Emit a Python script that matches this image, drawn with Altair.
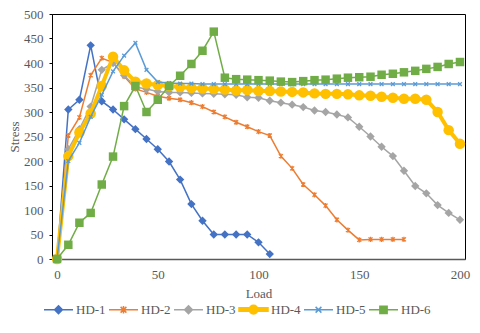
import altair as alt
import pandas as pd

load = [0, 5.6, 11.1, 16.7, 22.2, 27.8, 33.3, 38.9, 44.4, 50, 55.6, 61.1, 66.7,
        72.2, 77.8, 83.3, 88.9, 94.4, 100, 105.6, 111.1, 116.7, 122.2, 127.8,
        133.3, 138.9, 144.4, 150, 155.6, 161.1, 166.7, 172.2, 177.8, 183.3,
        188.9, 194.4, 200]

series_names = ["HD-1", "HD-2", "HD-3", "HD-4", "HD-5", "HD-6"]
colors = ["#4472C4", "#ED7D31", "#A5A5A5", "#FFC000", "#5B9BD5", "#70AD47"]

hd1 = [0, 305, 325, 436, 322, 305, 285, 265, 245, 224, 199, 162, 112, 78, 50,
       50, 50, 50, 34, 10]
hd2 = [0, 252, 289, 375, 410, 401, 373, 347, 340, 332, 328, 325, 319, 311, 300,
       290, 279, 270, 260, 252, 210, 185, 152, 131, 109, 80, 59, 39, 40, 40, 40, 40]
hd3 = [0, 224, 265, 311, 386, 400, 375, 351, 347, 342, 340, 340, 339, 338, 337,
       336, 335, 330, 329, 323, 319, 315, 310, 303, 300, 295, 289, 270, 250, 229,
       210, 180, 149, 134, 110, 94, 80]
hd4 = [0, 210, 258, 297, 353, 413, 385, 362, 358, 355, 353, 351, 349, 348, 347,
       346, 344, 345, 343, 343, 342, 341, 340, 338, 337, 337, 336, 334, 333, 331,
       329, 327, 327, 325, 300, 263, 235]
hd5 = [0, 200, 237, 290, 335, 383, 415, 441, 386, 361, 359, 358, 358, 357, 357,
       357, 357, 357, 357, 357, 357, 357, 357, 357, 357, 357, 357, 357, 357, 357,
       357, 357, 357, 357, 357, 357, 357]
hd6 = [0, 29, 74, 94, 152, 209, 312, 353, 300, 325, 353, 374, 398, 425, 464,
       370, 367, 366, 365, 364, 362, 361, 363, 365, 366, 368, 370, 371, 372, 376,
       378, 381, 384, 388, 392, 398, 402]

all_vals = [hd1, hd2, hd3, hd4, hd5, hd6]
rows = []
for name, vals in zip(series_names, all_vals):
    for i, v in enumerate(vals):
        rows.append({"series": name, "load": load[i], "stress": v, "order": i})
df = pd.DataFrame(rows)

FONT = "Liberation Serif"
GREY = "#595959"

X = alt.X("load:Q",
          scale=alt.Scale(domain=[-2.5, 202.5], nice=False, zero=False),
          axis=alt.Axis(values=[0, 50, 100, 150, 200], title="Load",
                        grid=False, ticks=False, labelPadding=9,
                        titlePadding=6, domainColor=GREY, domainWidth=1.5))
Y = alt.Y("stress:Q",
          scale=alt.Scale(domain=[0, 500], nice=False),
          axis=alt.Axis(values=list(range(0, 501, 50)), title="Stress",
                        grid=False, tickSize=3, tickColor="black",
                        labelPadding=6, titlePadding=2, domainColor="black"))

star_path = "M-1,-1L1,1M-1,1L1,-1M0,-1.3V1.3"
x_path = "M-1,-1L1,1M-1,1L1,-1"

legend_paths = [
    "M-1,0H1M0,-0.27L0.27,0L0,0.27L-0.27,0Z",
    "M-1,0H1M-0.2,-0.2L0.2,0.2M-0.2,0.2L0.2,-0.2M0,-0.26V0.26",
    "M-1,0H1M0,-0.27L0.27,0L0,0.27L-0.27,0Z",
    "M-1,-0.12H1V0.12H-1ZM0.3,0A0.3,0.3 0 1,1 -0.3,0A0.3,0.3 0 1,1 0.3,0Z",
    "M-1,0H1M-0.2,-0.2L0.2,0.2M-0.2,0.2L0.2,-0.2",
    "M-1,0H1M-0.25,-0.25H0.25V0.25H-0.25Z",
]

legend = alt.Legend(title=None, orient="none", legendX=-9, legendY=280,
                    direction="horizontal", symbolSize=841,
                    symbolStrokeWidth=1.5, symbolOpacity=1,
                    labelFont=FONT, labelFontSize=13, labelColor=GREY,
                    labelOffset=2, columnPadding=0)

color = alt.Color("series:N", scale=alt.Scale(domain=series_names, range=colors),
                  legend=legend)

marker_cfg = {
    "HD-1": dict(shape="diamond", size=70, filled=True, lw=1.5),
    "HD-2": dict(shape=star_path, size=16, filled=False, lw=1.5),
    "HD-3": dict(shape="diamond", size=70, filled=True, lw=1.5),
    "HD-4": dict(shape="circle", size=110, filled=True, lw=4),
    "HD-5": dict(shape=x_path, size=14, filled=False, lw=1.5),
    "HD-6": dict(shape="square", size=72, filled=True, lw=1.5),
}

layers = []
for name in series_names:
    cfg = marker_cfg[name]
    base = alt.Chart(df).transform_filter(alt.datum.series == name)
    line = base.mark_line(strokeWidth=cfg["lw"]).encode(
        x=X, y=Y, color=color, order="order:Q")
    pts = base.mark_point(shape=cfg["shape"], size=cfg["size"],
                          filled=cfg["filled"], opacity=1,
                          strokeWidth=1.3).encode(x=X, y=Y, color=color)
    layers += [line, pts]

legend_layer = alt.Chart(df).transform_filter("false").mark_point(
    filled=True, strokeWidth=1.5).encode(
    x=X, y=Y,
    color=color,
    shape=alt.Shape("series:N",
                    scale=alt.Scale(domain=series_names, range=legend_paths),
                    legend=legend),
)

chart = alt.layer(*layers, legend_layer).properties(
    width=413, height=245,
    autosize=alt.AutoSizeParams(type="none"),
    padding={"left": 44, "top": 6, "right": 7, "bottom": 66},
    background="white",
).configure_view(
    stroke="black", strokeWidth=1
).configure_axis(
    labelFont=FONT, labelFontSize=13, labelColor=GREY,
    titleFont=FONT, titleFontSize=13, titleColor=GREY, titleFontWeight="normal",
)

chart.save("out.html", embed_options={"renderer": "svg", "actions": False})
